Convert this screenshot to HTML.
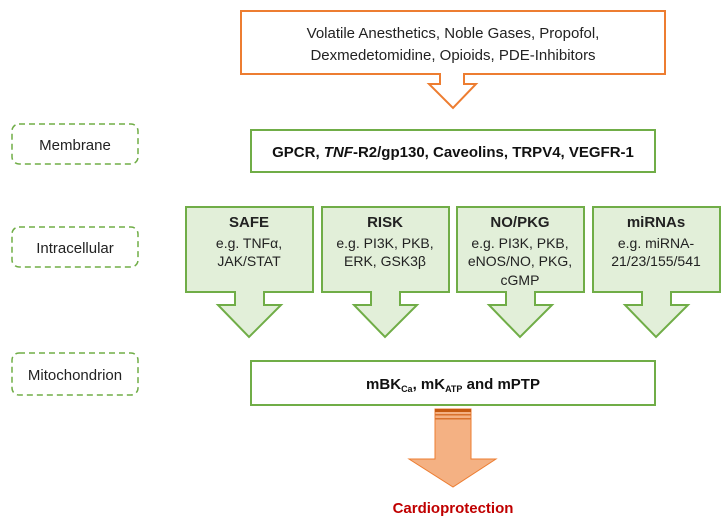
<!DOCTYPE html>
<html><head><meta charset="utf-8"><style>
body{margin:0;background:#fff}
svg{display:block}
text{font-family:"Liberation Sans",sans-serif}
</style></head><body>
<svg width="728" height="517" viewBox="0 0 728 517" xmlns="http://www.w3.org/2000/svg">
<!-- top box + hollow arrow -->
<polygon points="241,11 665,11 665,74 464,74 464,84 476,84 453,108 429,84 440,84 440,74 241,74" fill="#fff" stroke="#ED7D31" stroke-width="2"/>
<text x="453" y="38" font-size="15" text-anchor="middle" fill="#222">Volatile Anesthetics, Noble Gases, Propofol,</text>
<text x="453" y="60" font-size="15" text-anchor="middle" fill="#222">Dexmedetomidine, Opioids, PDE-Inhibitors</text>

<!-- left dashed labels -->
<g fill="none" stroke="#70AD47" stroke-width="1.5" stroke-dasharray="6,4">
<rect x="12" y="124" width="126" height="40" rx="7"/>
<rect x="12" y="227" width="126" height="40" rx="7"/>
<rect x="12" y="353" width="126" height="42" rx="7"/>
</g>
<g font-size="15" text-anchor="middle" fill="#222">
<text x="75" y="150">Membrane</text>
<text x="75" y="253">Intracellular</text>
<text x="75" y="380">Mitochondrion</text>
</g>

<!-- membrane box -->
<rect x="251" y="130" width="404" height="42" fill="#fff" stroke="#70AD47" stroke-width="2"/>
<text x="453" y="157" font-size="15" font-weight="bold" text-anchor="middle" fill="#111">GPCR, <tspan font-style="italic">TNF</tspan>-R2/gp130, Caveolins, TRPV4, VEGFR-1</text>

<!-- intracellular arrows -->
<g fill="#E2EFD9" stroke="#70AD47" stroke-width="2">
<polygon points="186,207 313,207 313,292 264,292 264,305 281,305 249,337 218,305 235,305 235,292 186,292"/>
<polygon points="322,207 449,207 449,292 400,292 400,305 417,305 385,337 354,305 371,305 371,292 322,292"/>
<polygon points="457,207 584,207 584,292 535,292 535,305 552,305 520,337 489,305 506,305 506,292 457,292"/>
<polygon points="593,207 720,207 720,292 671,292 671,305 688,305 656,337 625,305 642,305 642,292 593,292"/>
</g>
<g font-size="14" text-anchor="middle" fill="#222">
<text x="249" y="227" font-weight="bold" font-size="15">SAFE</text>
<text x="249" y="248">e.g. TNFα,</text>
<text x="249" y="266">JAK/STAT</text>
<text x="385" y="227" font-weight="bold" font-size="15">RISK</text>
<text x="385" y="248">e.g. PI3K, PKB,</text>
<text x="385" y="266">ERK, GSK3β</text>
<text x="520" y="227" font-weight="bold" font-size="15">NO/PKG</text>
<text x="520" y="248">e.g. PI3K, PKB,</text>
<text x="520" y="266">eNOS/NO, PKG,</text>
<text x="520" y="285">cGMP</text>
<text x="656" y="227" font-weight="bold" font-size="15">miRNAs</text>
<text x="656" y="248">e.g. miRNA-</text>
<text x="656" y="266">21/23/155/541</text>
</g>

<!-- mito box -->
<rect x="251" y="361" width="404" height="44" fill="#fff" stroke="#70AD47" stroke-width="2"/>
<text x="453" y="389" font-size="15" font-weight="bold" text-anchor="middle" fill="#111">mBK<tspan font-size="9" dy="3">Ca</tspan><tspan dy="-3">, mK</tspan><tspan font-size="9" dy="3">ATP</tspan><tspan dy="-3"> and mPTP</tspan></text>

<!-- orange arrow -->
<polygon points="435,409 471,409 471,459 496,459 453,487 409,459 435,459" fill="#F4B183" stroke="#ED7D31" stroke-width="1"/>
<rect x="435" y="409" width="36" height="3" fill="#C55A11"/>
<rect x="435" y="414" width="36" height="1.5" fill="#D9722E"/>
<rect x="435" y="418" width="36" height="1.5" fill="#D9722E"/>

<text x="453" y="513" font-size="15" font-weight="bold" text-anchor="middle" fill="#C00000">Cardioprotection</text>
</svg>
</body></html>
